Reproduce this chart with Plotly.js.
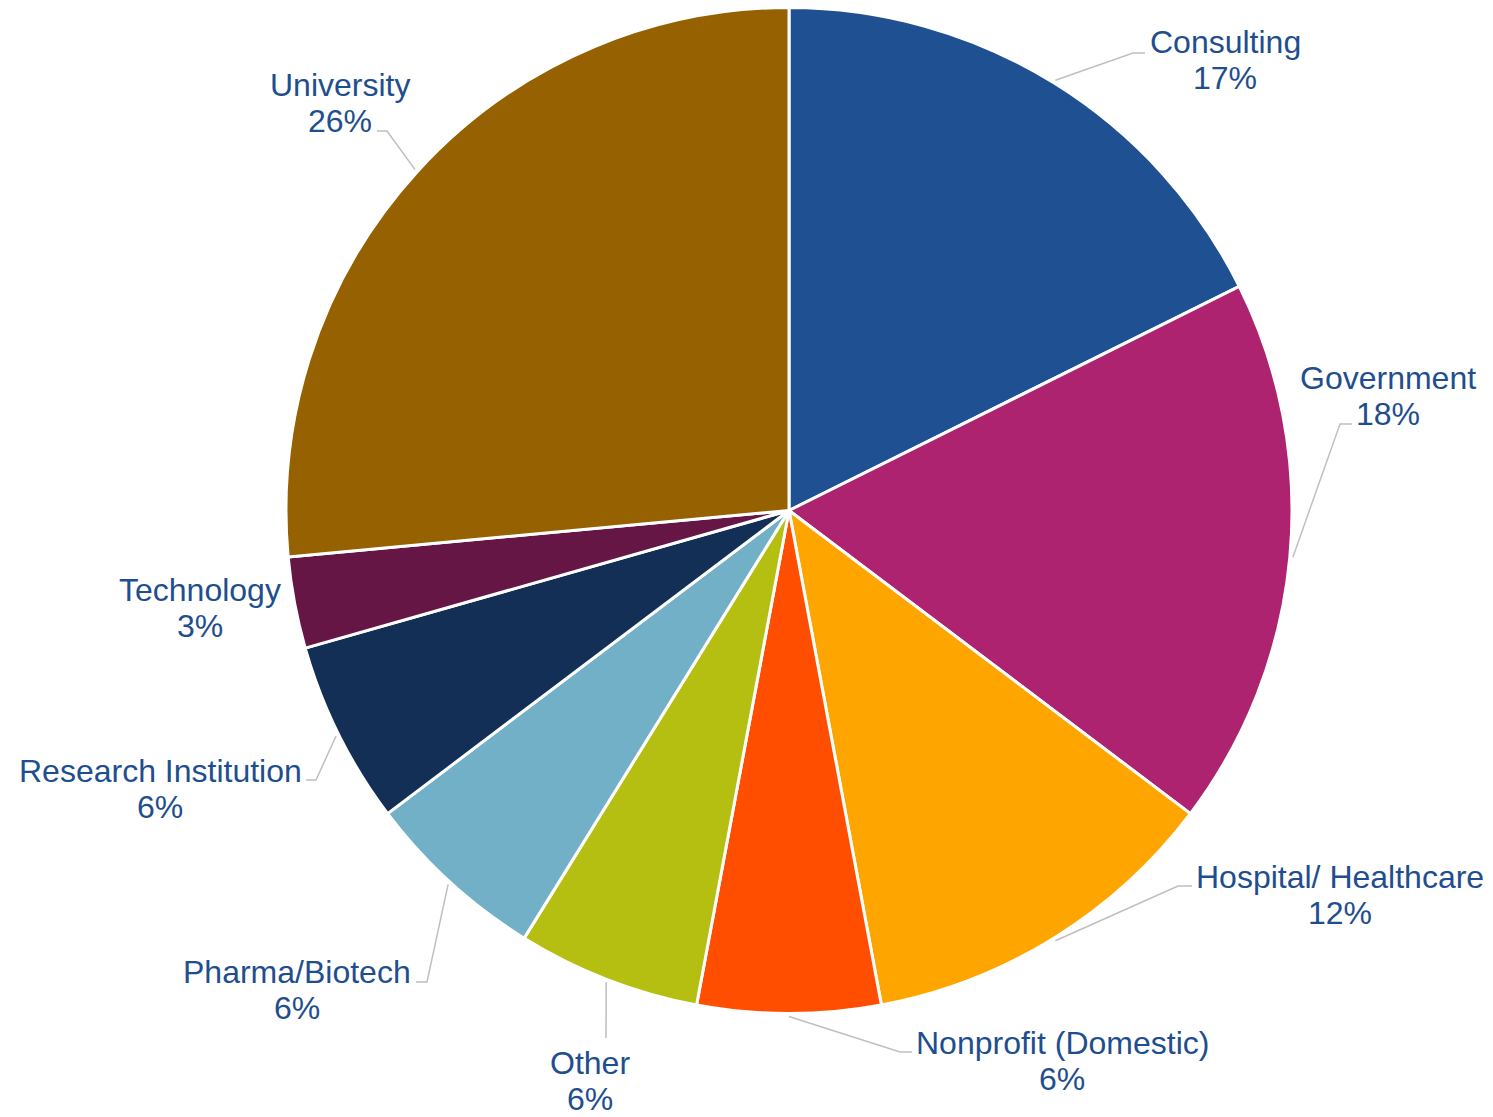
<!DOCTYPE html>
<html><head><meta charset="utf-8">
<script src="https://cdn.plot.ly/plotly-3.0.1.min.js"></script>
<style>html,body{margin:0;padding:0;background:#fff}#chart{width:1493px;height:1117px}</style>
</head><body><div id="chart"></div>
<script>
// ---- data ----
const categories = ['Consulting','Government','Hospital/ Healthcare','Nonprofit (Domestic)','Other','Pharma/Biotech','Research Institution','Technology','University'];
const counts = [6, 6, 4, 2, 2, 2, 2, 1, 9];
const percentLabels = ['17%','18%','12%','6%','6%','6%','6%','3%','26%'];
const sliceColors = ['#1F5091','#AD2370','#FFA500','#FF4E00','#B5BF12','#72B0C8','#132F56','#661645','#966100'];

// ---- layout constants (pixels) ----
const W = 1493, H = 1117, CX = 789, CY = 510.5, R = 503;
const labelPos = [
  {x:1225, y:60,   elbow:[1133,53],  end:[1145,53]},
  {x:1388, y:396,  elbow:[1340,424], end:[1352,424]},
  {x:1340, y:895,  elbow:[1178,886], end:[1192,886]},
  {x:1062, y:1061, elbow:[900,1052], end:[912,1052]},
  {x:590,  y:1081, elbow:null,       end:[606,1038]},
  {x:297,  y:990,  elbow:[427,982],  end:[416,982]},
  {x:160,  y:789,  elbow:[316,780],  end:[306,780]},
  {x:200,  y:608,  elbow:null,       end:null},
  {x:340,  y:103,  elbow:[387,131],  end:[377,131]}
];
const labelColor = '#1F4E8F';
const fontFam = 'Liberation Sans, Arial, sans-serif';
const fontSize = 32;
const lineGap = 18;

const px = x => x / W;
const py = y => 1 - y / H;

const total = counts.reduce((a, b) => a + b, 0);
let cum = 0;
const shapes = [];
const annotations = [];
counts.forEach((v, i) => {
  const mid = (cum + v / 2) / total * 2 * Math.PI;
  cum += v;
  const sx = CX + (R + 3) * Math.sin(mid);
  const sy = CY - (R + 3) * Math.cos(mid);
  const L = labelPos[i];
  if (L.end) {
    let path = `M ${px(sx)},${py(sy)}`;
    if (L.elbow) path += ` L ${px(L.elbow[0])},${py(L.elbow[1])}`;
    path += ` L ${px(L.end[0])},${py(L.end[1])}`;
    shapes.push({type:'path', xref:'paper', yref:'paper', path:path,
      line:{color:'#BFBFBF', width:1.5}});
  }
  annotations.push({xref:'paper', yref:'paper', x:px(L.x), y:py(L.y - lineGap),
    text:categories[i], showarrow:false, xanchor:'center', yanchor:'middle',
    font:{family:fontFam, size:fontSize, color:labelColor}});
  annotations.push({xref:'paper', yref:'paper', x:px(L.x), y:py(L.y + lineGap),
    text:percentLabels[i], showarrow:false, xanchor:'center', yanchor:'middle',
    font:{family:fontFam, size:fontSize, color:labelColor}});
});

const trace = {
  type:'pie',
  labels:categories,
  values:counts,
  sort:false,
  direction:'clockwise',
  rotation:0,
  marker:{colors:sliceColors, line:{color:'#FFFFFF', width:3}},
  textinfo:'none',
  hoverinfo:'label+percent',
  showlegend:false,
  domain:{x:[(CX - R) / W, (CX + R) / W], y:[(H - CY - R) / H, (H - CY + R) / H]}
};

const layout = {
  width:W, height:H,
  margin:{l:0, r:0, t:0, b:0},
  paper_bgcolor:'#FFFFFF',
  showlegend:false,
  shapes:shapes,
  annotations:annotations
};

Plotly.newPlot('chart', [trace], layout, {displayModeBar:false, staticPlot:true});
</script>
</body></html>
